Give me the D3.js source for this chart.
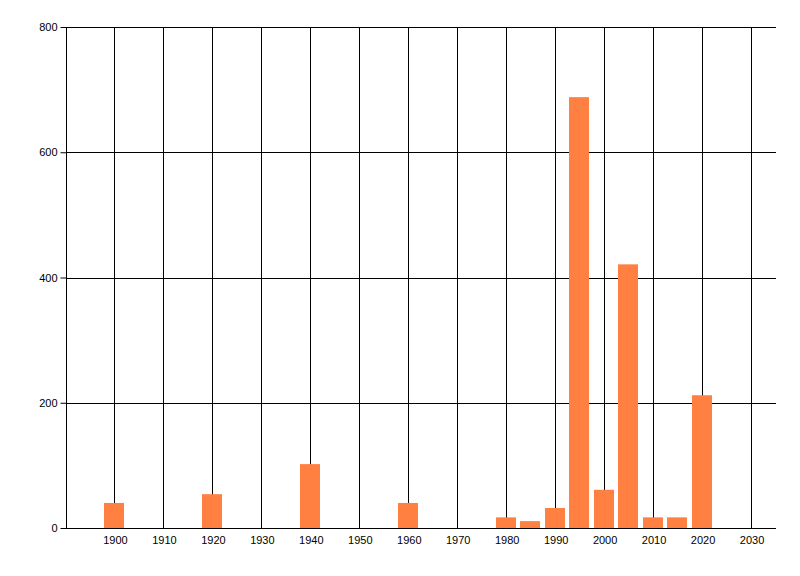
<!DOCTYPE html>
<html><head><meta charset="utf-8">
<script src="https://cdn.jsdelivr.net/npm/d3@7"></script>
<style>body{margin:0;background:#fff}svg{display:block}text{font-family:"Liberation Sans",Arial,sans-serif;font-size:11px;fill:#000}</style>
</head><body>
<script>
const years = [1900, 1920, 1940, 1960, 1980, 1985, 1990, 1995, 2000, 2005, 2010, 2015, 2020];
const values = [40, 54, 102, 40, 17, 11, 32, 688, 61, 421, 17, 17, 212];
const xTicks = [1900, 1910, 1920, 1930, 1940, 1950, 1960, 1970, 1980, 1990, 2000, 2010, 2020, 2030];
const yTicks = [0, 200, 400, 600, 800];

const W = 800, H = 576;
const m = {l: 66, r: 24, t: 27, b: 48};
const svg = d3.select("body").append("svg").attr("width", W).attr("height", H);
const x = d3.scaleLinear().domain([1890, 2035]).range([m.l, W - m.r]);
const y = d3.scaleLinear().domain([0, 800]).range([H - m.b, m.t]);

// grid
svg.append("g").selectAll("line").data(xTicks).join("line")
  .attr("x1", d => Math.round(x(d)) - 0.5).attr("x2", d => Math.round(x(d)) - 0.5)
  .attr("y1", y(800)).attr("y2", y(0)).attr("stroke", "#000");
svg.append("g").selectAll("line").data(yTicks.filter(d => d > 0)).join("line")
  .attr("x1", m.l).attr("x2", W - m.r)
  .attr("y1", d => Math.round(y(d)) + 0.5).attr("y2", d => Math.round(y(d)) + 0.5).attr("stroke", "#000");

// bars
const bw = x(1894) - x(1890);
svg.append("g").selectAll("rect").data(years).join("rect")
  .attr("x", (d) => Math.round(x(d) - bw / 2) - 1)
  .attr("width", Math.round(bw))
  .attr("y", (d, i) => y(values[i]))
  .attr("height", (d, i) => y(0) - y(values[i]))
  .attr("fill", "#ff8040");

// axes
const gx = svg.append("g").attr("transform", `translate(0,${Math.round(y(0)) + 0.5})`)
  .call(d3.axisBottom(x).tickValues(xTicks).tickFormat(d3.format("d")).tickSize(0).tickPadding(8));
gx.select(".domain").attr("stroke", "#000").attr("d", `M${m.l},0H${W - m.r}`);
const gy = svg.append("g").attr("transform", `translate(${m.l + 0.5},0)`)
  .call(d3.axisLeft(y).tickValues(yTicks).tickSize(6).tickPadding(3));
gy.select(".domain").attr("stroke", "#000").attr("d", `M0,${y(800)}V${y(0)}`);
svg.selectAll(".tick text").style("font-family", '"Liberation Sans",Arial,sans-serif').style("font-size", "11px").attr("fill", "#000");
</script>
</body></html>
